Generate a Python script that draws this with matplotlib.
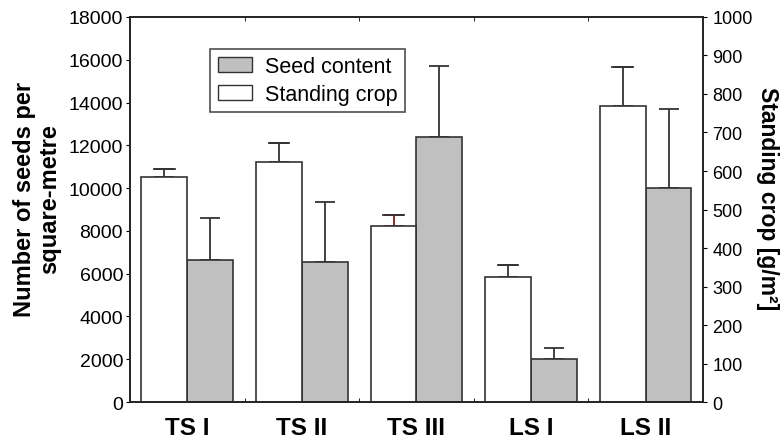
import numpy as np
import matplotlib
matplotlib.use("Agg")
from matplotlib import pyplot as plt
from matplotlib.patches import Patch

plt.rcParams['font.family'] = ['Liberation Sans', 'DejaVu Sans']

# data
sites = ['TS I', 'TS II', 'TS III', 'LS I', 'LS II']
crop = [584, 623, 456, 325, 770]          # standing crop g/m2 (right axis)
crop_err = [21, 49, 31, 32, 101]
seeds = [6650, 6530, 12370, 2030, 10020]  # seeds per m2 (left axis)
seeds_err = [1940, 2820, 3340, 480, 3660]

fig = plt.figure(figsize=(7.81, 4.39), dpi=100)
ax = fig.add_axes([0.1665, 0.082, 0.7335, 0.877])
ax2 = ax.twinx()

x = np.arange(len(sites)) + 0.5
w = 0.4
edge = '#333333'

# seed content - grey bars on the left scale
ax.bar(x + w / 2, seeds, w, color='#c0c0c0', edgecolor=edge, linewidth=1.2, zorder=2)
ax.errorbar(x + w / 2, seeds, yerr=[np.zeros(len(seeds)), seeds_err], fmt='none',
            ecolor=edge, elinewidth=1.3, capsize=7.5, capthick=1.3, zorder=1)

# standing crop - white bars on the right scale
ax2.bar(x - w / 2, crop, w, color='white', edgecolor=edge, linewidth=1.2, zorder=2)
ecol = [edge, edge, '#8b1a1a', edge, edge]
for i in range(len(crop)):
    ax2.errorbar(x[i] - w / 2, crop[i], yerr=[[0], [crop_err[i]]], fmt='none',
                 ecolor=ecol[i], elinewidth=1.3, capsize=7.5, capthick=1.3, zorder=1)
    # cap stays dark even when the stem is red
    ax2.plot([x[i] - w / 2 - 0.09, x[i] - w / 2 + 0.09],
             [crop[i] + crop_err[i]] * 2, color=edge, lw=1.3, zorder=3)

ax.set_xlim(0, 5)
ax.set_ylim(0, 18000)
ax2.set_ylim(0, 1000)
ax.set_yticks(np.arange(0, 18001, 2000))
ax2.set_yticks(np.arange(0, 1001, 100))

ax.set_xticks(x)
ax.set_xticklabels(sites, fontsize=17.5, fontweight='bold')
ax.set_xticks([1, 2, 3, 4], minor=True)
ax.tick_params(axis='x', which='major', length=0, pad=10)
ax.tick_params(axis='x', which='minor', direction='in', length=3, top=True)
ax.tick_params(axis='y', length=3, labelsize=14, pad=2)
ax2.tick_params(axis='y', length=3, labelsize=13, pad=4)

ax.set_ylabel('Number of seeds per\nsquare-metre', fontsize=17, fontweight='bold',
              linespacing=1.15, va='center')
ax.yaxis.set_label_coords(-0.162, 0.53)
ax2.set_ylabel('Standing crop [g/m\u00b2]', fontsize=16.5, fontweight='bold',
               rotation=-90, va='center')
ax2.yaxis.set_label_coords(1.112, 0.53)

for a in (ax, ax2):
    for s in a.spines.values():
        s.set_linewidth(1.2)
        s.set_color('#222222')

handles = [Patch(facecolor='#c0c0c0', edgecolor=edge, label='Seed content'),
           Patch(facecolor='white', edgecolor=edge, label='Standing crop')]
leg = ax2.legend(handles=handles, loc='upper left', bbox_to_anchor=(0.14, 0.917),
                 borderaxespad=0, fontsize=15.5, frameon=True, fancybox=False,
                 edgecolor='#222222', borderpad=0.35, labelspacing=0.3,
                 handlelength=1.6, handletextpad=0.6)
leg.get_frame().set_linewidth(1.2)

fig.savefig('out.png', dpi=100)
